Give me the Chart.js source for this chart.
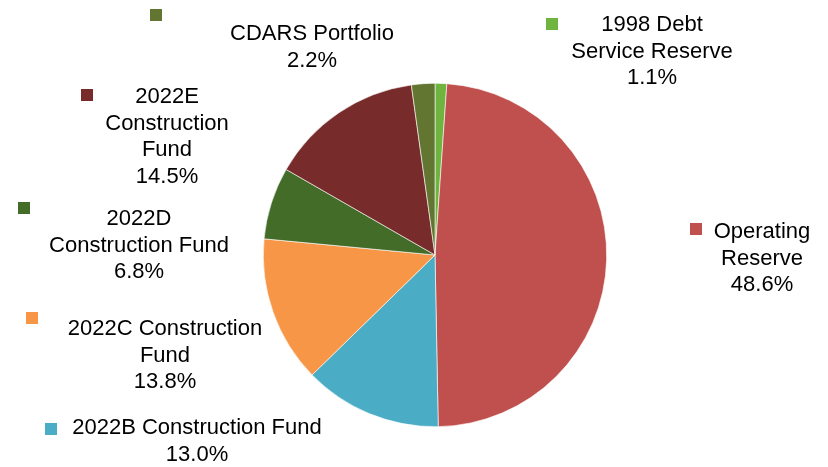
<!DOCTYPE html>
<html>
<head>
<meta charset="utf-8">
<script src="https://cdn.jsdelivr.net/npm/chart.js@4.4.1/dist/chart.umd.min.js"></script>
<style>
  html, body { margin: 0; padding: 0; background: #fff; }
  #wrap { width: 828px; height: 467px; position: relative; }
</style>
</head>
<body>
<div id="wrap"><canvas id="pie"></canvas></div>
<script>
// Slices, clockwise from 12 o'clock
const categories = [
    '1998 Debt Service Reserve',
    'Operating Reserve',
    '2022B Construction Fund',
    '2022C Construction Fund',
    '2022D Construction Fund',
    '2022E Construction Fund',
    'CDARS Portfolio'
];
const shares = [1.1, 48.6, 13.0, 13.8, 6.8, 14.5, 2.2];

// How each label wraps in the picture
const labelLines = [
    ['1998 Debt', 'Service Reserve'],
    ['Operating', 'Reserve'],
    ['2022B Construction Fund'],
    ['2022C Construction', 'Fund'],
    ['2022D', 'Construction Fund'],
    ['2022E', 'Construction', 'Fund'],
    ['CDARS Portfolio']
];

const sliceColors = ['#6EB43F', '#C0504D', '#4BACC6', '#F79646', '#436C29', '#772C2B', '#627631'];

// Label layout: centre x, y of first line; marker top-left
const labelAt = [
    { x: 652, y: 25, mx: 546, my: 18 },
    { x: 762, y: 232, mx: 690, my: 223 },
    { x: 197, y: 428, mx: 45, my: 423 },
    { x: 165, y: 329, mx: 26, my: 312 },
    { x: 139, y: 219, mx: 18, my: 202 },
    { x: 167, y: 97, mx: 81, my: 89 },
    { x: 312, y: 34, mx: 150, my: 9 }
];

const sliceLabels = {
    id: 'sliceLabels',
    afterDraw(chart) {
        const ctx = chart.ctx;
        ctx.save();
        ctx.font = '22px "Liberation Sans", Arial, sans-serif';
        ctx.textAlign = 'center';
        ctx.textBaseline = 'middle';
        categories.forEach((name, i) => {
            const pos = labelAt[i];
            const lines = labelLines[i].concat([shares[i].toFixed(1) + '%']);
            ctx.fillStyle = '#000';
            lines.forEach((t, k) => ctx.fillText(t, pos.x, pos.y + k * 26.5));
            ctx.fillStyle = sliceColors[i];
            ctx.fillRect(pos.mx, pos.my, 12, 12);
        });
        ctx.restore();
    }
};

new Chart(document.getElementById('pie'), {
    type: 'pie',
    data: {
        labels: categories,
        datasets: [{
            data: shares,
            backgroundColor: sliceColors,
            borderColor: '#ffffff',
            borderWidth: 0.6
        }]
    },
    options: {
        responsive: true,
        maintainAspectRatio: false,
        animation: false,
        layout: { padding: { left: 263, right: 221, top: 83, bottom: 40 } },
        plugins: {
            legend: { display: false },
            tooltip: { enabled: false }
        }
    },
    plugins: [sliceLabels]
});
</script>
</body>
</html>
